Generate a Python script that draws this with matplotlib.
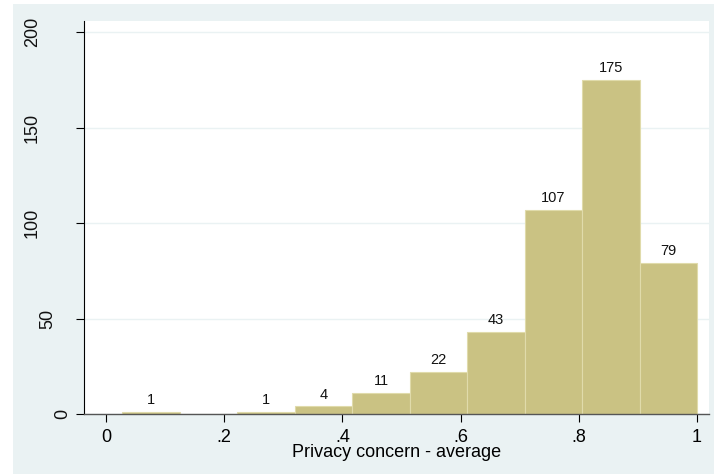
import numpy as np
import matplotlib.pyplot as plt
import matplotlib.transforms as mtransforms
from matplotlib.patches import Rectangle

plt.rcParams['font.family'] = ['Liberation Sans', 'DejaVu Sans']

# ---------------- data ----------------
bin_lo = 0.0278
bin_hi = 1.0
counts = [1, 0, 1, 4, 11, 22, 43, 107, 175, 79]
x_ticks = [0, 0.2, 0.4, 0.6, 0.8, 1.0]
x_tick_labels = ['0', '.2', '.4', '.6', '.8', '1']
y_ticks = [0, 50, 100, 150, 200]
y_tick_labels = ['0', '50', '100', '150', '200']
x_label = 'Privacy concern - average'

# ---------------- figure ----------------
W, H = 714, 474
fig = plt.figure(figsize=(W / 100, H / 100), dpi=100)
fig.patch.set_facecolor('white')

# stata-like graph region (behind the axes)
bg = Rectangle((13 / W, 0), 1 - 13 / W, 1 - 4 / H,
               transform=fig.transFigure, facecolor='#eaf2f3',
               edgecolor='none', zorder=-10)
fig.add_artist(bg)

ax = fig.add_axes([84 / W, 60 / H, (709 - 84) / W, (414 - 21) / H])
ax.set_facecolor('white')

edges = np.linspace(bin_lo, bin_hi, len(counts) + 1)
width = edges[1] - edges[0]
bars = ax.bar(edges[:-1], counts, width=width, align='edge',
              color='#cac283', edgecolor='#e0dbab', linewidth=0.8, zorder=2)

for b, c in zip(bars, counts):
    if c > 0:
        ax.annotate(str(c), (b.get_x() + b.get_width() / 2, c),
                    xytext=(0, 3.5), textcoords='offset points',
                    ha='center', va='bottom', fontsize=10.5, color='#111111')

ax.set_xlim(-0.0372, 1.0203)
ax.set_ylim(0, 205.8)

ax.set_xticks(x_ticks)
ax.set_xticklabels(x_tick_labels, fontsize=13)
ax.set_yticks(y_ticks)
ax.set_yticklabels([])
ax.tick_params(axis='x', direction='out', length=6, width=0.8, pad=4.5)
ax.tick_params(axis='y', direction='out', length=6, width=0.8)

ax.grid(axis='y', color='#eaf2f3', linewidth=1.0, zorder=1)
ax.set_axisbelow(True)

for s in ['top', 'right']:
    ax.spines[s].set_visible(False)
ax.spines['left'].set_color('#000000')
ax.spines['bottom'].set_color('#555555')
ax.spines['left'].set_linewidth(0.8)
ax.spines['bottom'].set_linewidth(1.0)

# y labels: rotated, shifted by string length like stata does
for val, lab in zip(y_ticks, y_tick_labels):
    dx = (77.5 - 15 * len(lab) - 84) / 100
    tr = mtransforms.blended_transform_factory(ax.transAxes, ax.transData) + \
        mtransforms.ScaledTranslation(dx, 0, fig.dpi_scale_trans)
    ax.text(0, val, lab, transform=tr, rotation=90, ha='center', va='center',
            fontsize=13, color='#111111')

ax.set_xlabel(x_label, fontsize=13, labelpad=-1)

fig.savefig('out.png', dpi=100)
